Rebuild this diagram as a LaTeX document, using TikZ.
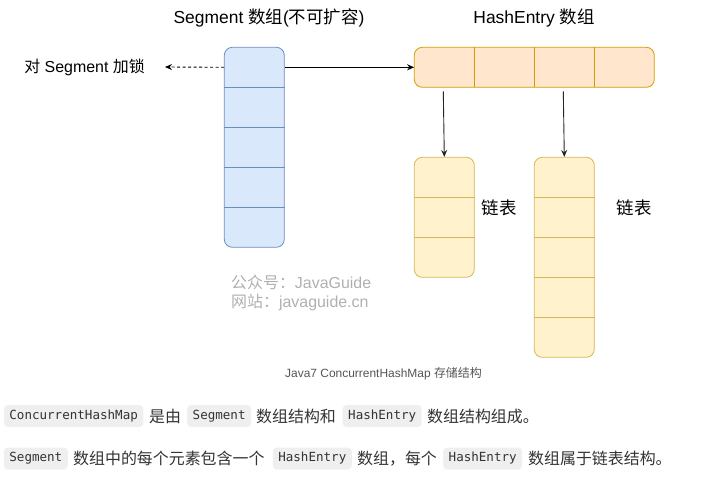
\documentclass[tikz,border=0pt]{standalone}
\usepackage{fontspec}
\setmainfont{Liberation Sans}
\newfontfamily\cjk{Noto Sans CJK SC}
\newfontfamily\codefont{DejaVu Sans Mono}
\usepackage{xcolor}
\usepackage{tikz}
\usetikzlibrary{arrows.meta, positioning, calc}
\definecolor{segfill}{HTML}{DAE8FC}
\definecolor{segline}{HTML}{6C8EBF}
\definecolor{hefill}{HTML}{FFE6CC}
\definecolor{heline}{HTML}{D79B00}
\definecolor{listfill}{HTML}{FFF2CC}
\definecolor{listline}{HTML}{D6B656}
\definecolor{markgray}{HTML}{B0B0B0}
\definecolor{captiongray}{HTML}{555555}
\definecolor{bodytext}{HTML}{333333}
\definecolor{chipfill}{HTML}{EFEFF0}

\tikzset{
    arr/.style={-{Stealth[length=7bp, width=6bp]}, line width=0.9bp},
    title/.style={font=\fontsize{17.5}{20}\selectfont},
    cellrow/.style={minimum width=60bp, minimum height=40bp, inner sep=0pt},
    chip/.style={fill=chipfill, rounded corners=4bp, inner xsep=5.5bp, minimum height=22bp, anchor=west,
        text=bodytext, font=\codefont\fontsize{12.6}{15}\selectfont},
    body/.style={anchor=west, inner sep=0pt, text=bodytext, font=\cjk\fontsize{16}{18}\selectfont}
}

\begin{document}
\begin{tikzpicture}[x=1bp, y=-1bp]
    \useasboundingbox (0, 0) rectangle (708, 485);

    % Titles
    \node[title] (segtitle) at (269, 18) {Segment {\cjk 数组}({\cjk 不可扩容})};
    \node[title] (hetitle) at (534, 18) {HashEntry {\cjk 数组}};

    % Segment array
    \node[draw=segline, fill=segfill, line width=0.8bp, rounded corners=8bp,
          minimum width=60bp, minimum height=200bp, inner sep=0pt] (seg) at (254.3, 147.3) {};
    \foreach \i in {1,...,5}
        \node[cellrow] (seg\i) at (254.3, 27.3+40*\i) {};
    \foreach \i in {1,...,4}
        \draw[segline, line width=0.8bp] (seg\i.south west) -- (seg\i.south east);

    % HashEntry array
    \node[draw=heline, fill=hefill, line width=0.8bp, rounded corners=8bp,
          minimum width=240bp, minimum height=40bp, inner sep=0pt] (he) at (534.3, 67.3) {};
    \foreach \i in {1,...,4}
        \node[cellrow] (he\i) at (384.3+60*\i, 67.3) {};
    \foreach \i in {1,...,3}
        \draw[heline, line width=0.8bp] (he\i.north east) -- (he\i.south east);

    % Linked lists
    \node[draw=listline, fill=listfill, line width=0.8bp, rounded corners=8bp,
          minimum width=60bp, minimum height=120bp, inner sep=0pt] (listA) at (444.3, 217.3) {};
    \foreach \i in {1,...,3}
        \node[cellrow] (listA\i) at (444.3, 137.3+40*\i) {};
    \foreach \i in {1,...,2}
        \draw[listline, line width=0.8bp] (listA\i.south west) -- (listA\i.south east);

    \node[draw=listline, fill=listfill, line width=0.8bp, rounded corners=8bp,
          minimum width=60bp, minimum height=200bp, inner sep=0pt] (listB) at (564.3, 257.3) {};
    \foreach \i in {1,...,5}
        \node[cellrow] (listB\i) at (564.3, 137.3+40*\i) {};
    \foreach \i in {1,...,4}
        \draw[listline, line width=0.8bp] (listB\i.south west) -- (listB\i.south east);

    \node[title, font=\cjk\fontsize{17.5}{20}\selectfont] (labelA) at (499, 208) {链表};
    \node[title, font=\cjk\fontsize{17.5}{20}\selectfont] (labelB) at (634, 208) {链表};

    % Lock label
    \node[font=\fontsize{16}{18}\selectfont, anchor=east, inner sep=0pt] (lock) at (145, 67) {{\cjk 对} Segment {\cjk 加锁}};

    % Arrows
    \draw[arr, dash pattern=on 3bp off 2.5bp] (seg1.west) -- ([xshift=20bp]lock.east);
    \draw[arr] (seg1.east) -- (he1.west);
    \draw[arr, black!85] ([xshift=-1bp, yshift=-4bp]he1.south) -- (listA.north);
    \draw[arr, black!85] ([xshift=-1bp, yshift=-4bp]he3.south) -- (listB.north);

    % Watermark
    \node[anchor=west, inner sep=0pt, text=markgray, align=left, font=\fontsize{16}{19}\selectfont] (mark) at (231, 292.5)
        {{\cjk 公众号：}JavaGuide\\{\cjk 网站：}javaguide.cn};

    % Caption
    \node[text=captiongray, font=\fontsize{12}{14}\selectfont] (caption) at (383.5, 374) {Java7 ConcurrentHashMap {\cjk 存储结构}};

    % Text under the picture
    \node[chip] (c1) at (3.7, 416) {ConcurrentHashMap};
    \node[body] (t1) at (149, 416) {是由};
    \node[chip] (c2) at (187, 416) {Segment};
    \node[body] (t2) at (256, 416) {数组结构和};
    \node[chip] (c3) at (342.5, 416) {HashEntry};
    \node[body] (t3) at (427, 416) {数组结构组成。};

    \node[chip] (c4) at (3.7, 458.5) {Segment};
    \node[body] (t4) at (73, 458.5) {数组中的每个元素包含一个};
    \node[chip] (c5) at (272.6, 458.5) {HashEntry};
    \node[body] (t5) at (357, 458.5) {数组，每个};
    \node[chip] (c6) at (443, 458.5) {HashEntry};
    \node[body] (t6) at (528, 458.5) {数组属于链表结构。};
\end{tikzpicture}
\end{document}
